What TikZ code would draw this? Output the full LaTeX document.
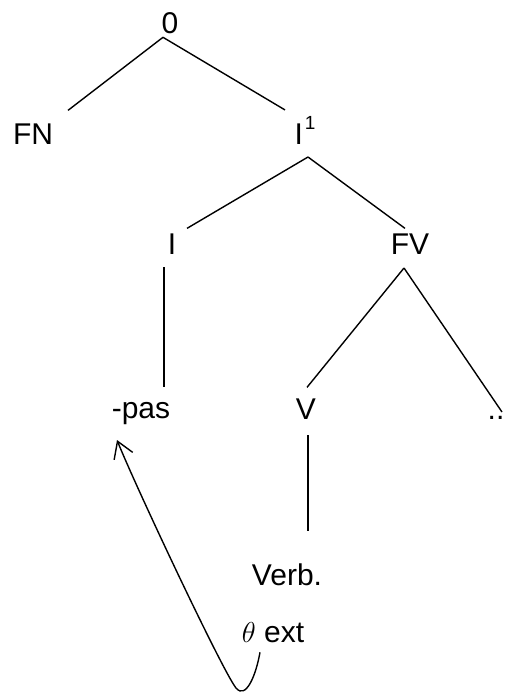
\documentclass[tikz,border=0pt]{standalone}
\usepackage{fontspec}
\setmainfont{Liberation Sans}
\usetikzlibrary{calc,arrows.meta}
\begin{document}
\begin{tikzpicture}[x=0.5pt,y=-0.5pt,
  lbl/.style={anchor=base,inner sep=0pt,outer sep=0pt,font=\fontsize{15}{17}\selectfont},
  edge/.style={line width=0.7pt},
  movearrow/.style={line width=0.7pt,-{Straight Barb[length=8pt,width=10pt]}}]
\useasboundingbox (0,0) rectangle (505,693);
% nodes
\node[lbl] (r)    at (170,33)  {0};
\node[lbl] (fn)   at (33,144)  {FN};
\node[lbl] (i1)   at (305,144) {I\hspace{1pt}\raisebox{7.5pt}{\fontsize{9.5}{9.5}\selectfont 1}};
\node[lbl] (i)    at (172,254) {I};
\node[lbl] (fv)   at (410,254) {FV};
\node[lbl] (pas)  at (141,418) {-pas};
\node[lbl] (v)    at (306,419) {V};
\node[lbl] (dd)   at (496,419) {..};
\node[lbl] (verb) at (287,585) {Verb.};
\node[lbl] (te)   at (273,642) {$\theta$ ext};
% edges
\draw[edge] ($(r.south)+(-7,4)$) -- ($(fn.north east)+(15,-13)$);
\draw[edge] ($(r.south)+(-7,4)$) -- ($(i1.north)+(-20,-6)$);
\draw[edge] ($(i1.south)+(3,13)$) -- ($(i.north)+(15,-5)$);
\draw[edge] ($(i1.south)+(3,13)$) -- ($(fv.north)+(-5,-5)$);
\draw[edge] ($(i.south)+(-8,13)$) -- ($(pas.north)+(23,-15)$);
\draw[edge] ($(fv.south)+(-6,14)$) -- ($(v.north)+(1,-11)$);
\draw[edge] ($(fv.south)+(-6,14)$) -- ($(dd.base)+(6,-7)$);
\draw[edge] ($(v.south)+(2,16)$) -- ($(verb.north)+(21,-32)$);
% movement arrow
\coordinate (tip) at ($(pas.base)+(-24,22)$);
\draw[movearrow] ($(te.south)+(-13,10)$) .. controls (256,675) and (246,700) .. (236,688)
   .. controls (222,670) and (135,485) .. (tip);
\end{tikzpicture}
\end{document}
